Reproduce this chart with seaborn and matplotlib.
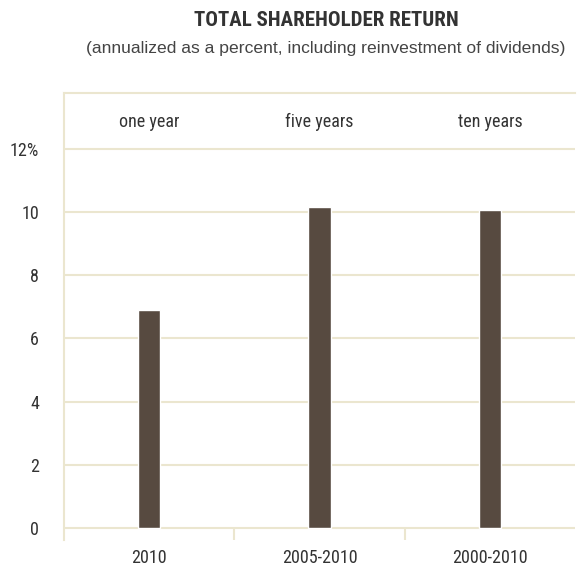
import matplotlib
matplotlib.use("Agg")
import matplotlib.pyplot as plt
from matplotlib import font_manager
import seaborn as sns
import pandas as pd

categories = ["2010", "2005-2010", "2000-2010"]
periods = ["one year", "five years", "ten years"]
values = [6.9, 10.15, 10.08]
yticks = [0, 2, 4, 6, 8, 10, 12]
ytick_labels = ["0", "2", "4", "6", "8", "10", "12%"]

available = {f.name for f in font_manager.fontManager.ttflist}
cond_choice = None
for cand in ["Liberation Sans Narrow", "Roboto Condensed", "DejaVu Sans Condensed",
             "Open Sans Condensed"]:
    if cand in available:
        cond_choice = cand
        break

sns.set_style("white")
base = ["Liberation Sans", "DejaVu Sans"]
cond = ([cond_choice] if cond_choice else []) + base
plt.rcParams["font.family"] = cond

grid_c = "#ebe6cf"
bar_c = "#574a40"
txt_c = "#333333"

df = pd.DataFrame({"period": categories, "value": values})

fig = plt.figure(figsize=(5.78, 5.67), dpi=100)
ax = fig.add_axes([64 / 578, 1 - 540 / 567, (575 - 64) / 578, (540 - 93) / 567])

sns.barplot(data=df, x="period", y="value", color=bar_c, width=0.13,
            saturation=1, ax=ax, zorder=3)

ax.set_ylim(-0.38, 13.77)
ax.set_xlim(-0.5, 2.5)
ax.set_yticks(yticks)
ax.set_yticklabels(ytick_labels)
ax.set_xlabel("")
ax.set_ylabel("")
ax.yaxis.grid(True, color=grid_c, linewidth=1.5, zorder=0)
ax.set_axisbelow(True)

for s in ["right", "bottom"]:
    ax.spines[s].set_visible(False)
for s in ["left", "top"]:
    ax.spines[s].set_color(grid_c)
    ax.spines[s].set_linewidth(1.5)

ax.tick_params(axis="y", length=12, width=1.5, color=grid_c, pad=6,
               labelsize=13, labelcolor=txt_c)
ax.tick_params(axis="x", length=0, pad=6.5, labelsize=13, labelcolor=txt_c)

# category separators below the zero line
ax.vlines([0.5, 1.5], -0.38, 0, color=grid_c, linewidth=1.5, zorder=1)

for i, p in enumerate(periods):
    ax.text(i, 12.86, p, ha="center", va="center", fontsize=13, color=txt_c)

fig.text(326 / 578, 1 - 21 / 567, "TOTAL SHAREHOLDER RETURN", ha="center",
         va="center", fontsize=15, fontweight="bold", color=txt_c)
fig.text(326 / 578, 1 - 48 / 567,
         "(annualized as a percent, including reinvestment of dividends)",
         ha="center", va="center", fontsize=12.6, color="#444444",
         family=base)

fig.savefig("out.png", dpi=100)
